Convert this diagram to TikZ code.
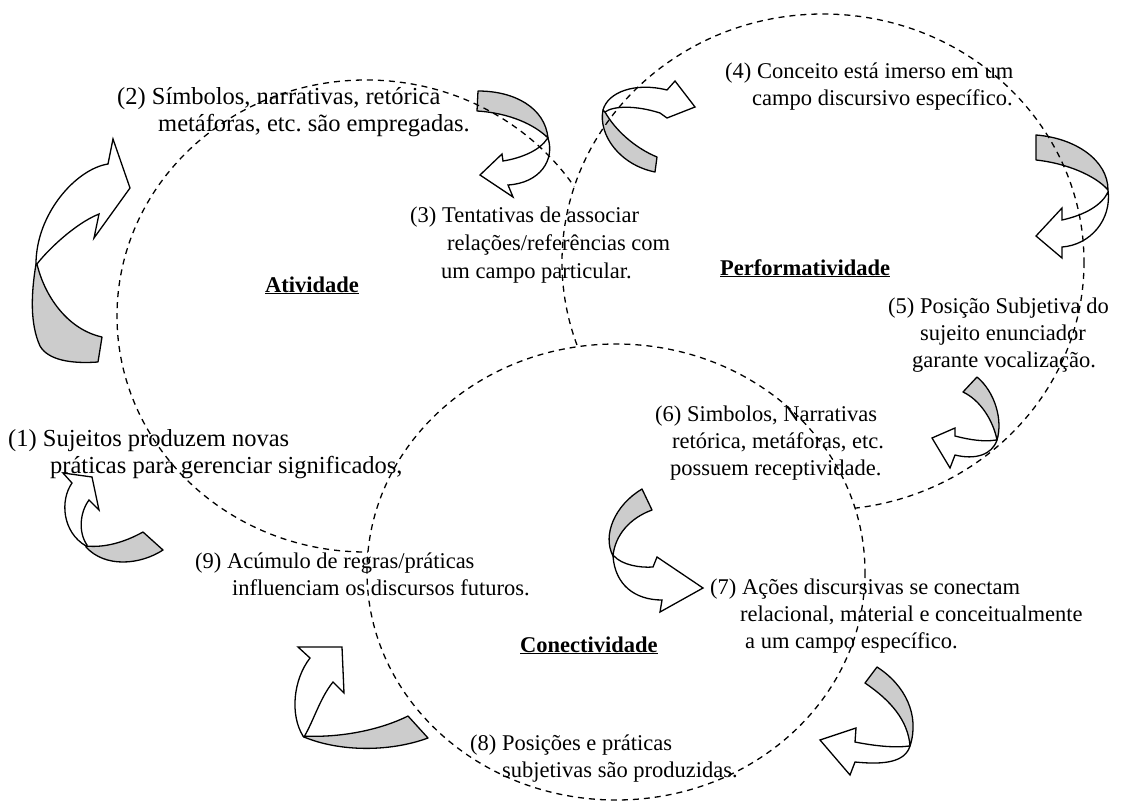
\documentclass[tikz,border=0pt]{standalone}
\usepackage{fontspec}
\setmainfont{Liberation Serif}
\begin{document}
\frenchspacing
\begin{tikzpicture}[x=1pt,y=-1pt]
\definecolor{bandgray}{HTML}{CCCCCC}
\tikzset{
  ring/.style={draw, dash pattern=on 6pt off 5pt, line width=1.3pt},
  backband/.style={draw, fill=bandgray, line width=1.3pt, line join=round},
  frontband/.style={draw, fill=white, line width=1.3pt, line join=miter},
  txt/.style={anchor=base west, inner sep=0pt, font=\fontsize{22.5}{27}\selectfont},
  bigtxt/.style={anchor=base west, inner sep=0pt, font=\fontsize{24.5}{27}\selectfont},
  heading/.style={txt, font=\fontsize{22.5}{27}\selectfont\bfseries},
}
\useasboundingbox (0,0) rectangle (1137,803);

% ---- curved ribbon arrows (back side grey, front side white) ----
% left, pointing right
\path[backband] (36,264) .. controls (31,294) and (30,324) .. (40,346) .. controls (48,360) and (71,364) .. (98,362) -- (102,337) .. controls (66,329) and (44,294) .. (37,264) -- cycle;
\path[frontband] (36,264) .. controls (36,214) and (76,169) .. (108,164) -- (113,139) -- (130,188) -- (94,238) -- (99,214) .. controls (74,224) and (46,252) .. (37,264) -- cycle;
% near (2)/(3)
\path[backband] (478,91) .. controls (515,91) and (545,108) .. (548,138) .. controls (535,125) and (510,113) .. (477,111) -- cycle;
\path[frontband] (548,138) .. controls (555,160) and (540,183) .. (508,185) -- (513,197) -- (480,175) -- (502,154) -- (503,161) .. controls (522,158) and (540,150) .. (547,139) -- cycle;
% near (4)
\path[backband] (603,110) .. controls (598,135) and (620,165) .. (655,172) -- (657,157) .. controls (635,148) and (615,130) .. (605,112) -- cycle;
\path[frontband] (603,110) .. controls (608,92) and (635,82) .. (667,90) -- (675,81) -- (695,107) -- (667,118) -- (660,113) .. controls (635,105) and (613,106) .. (605,112) -- cycle;
% right, between (4) and (5)
\path[backband] (1036,135) .. controls (1075,138) and (1108,160) .. (1108,190) .. controls (1095,175) and (1065,163) .. (1036,160) -- cycle;
\path[frontband] (1108,190) .. controls (1112,220) and (1090,245) .. (1062,247) -- (1062,258) -- (1036,236) -- (1062,208) -- (1062,220) .. controls (1085,215) and (1102,205) .. (1108,192) -- cycle;
% below (5)
\path[backband] (977,377) .. controls (995,392) and (1003,420) .. (997,440) .. controls (993,420) and (980,400) .. (963,392) -- cycle;
\path[frontband] (997,440) .. controls (992,455) and (975,460) .. (955,455) -- (950,468) -- (932,438) -- (955,428) -- (955,436) .. controls (970,440) and (985,442) .. (996,440) -- cycle;
% left of (6)/(7)
\path[backband] (642,489) .. controls (615,505) and (602,535) .. (613,556) .. controls (615,535) and (630,518) .. (652,510) -- cycle;
\path[frontband] (613,556) .. controls (615,585) and (635,600) .. (662,600) -- (660,612) -- (703,588) -- (657,557) -- (653,567) .. controls (640,568) and (622,565) .. (614,556) -- cycle;
% below (7)
\path[backband] (877,667) .. controls (905,685) and (920,715) .. (910,746) .. controls (908,720) and (890,700) .. (865,683) -- cycle;
\path[frontband] (910,746) .. controls (905,762) and (885,765) .. (855,762) -- (850,775) -- (820,740) -- (856,728) -- (855,742) .. controls (875,746) and (895,748) .. (909,746) -- cycle;
% left of (8)
\path[backband] (303,736) .. controls (340,738) and (380,730) .. (408,716) -- (428,738) .. controls (390,752) and (340,752) .. (304,737) -- cycle;
\path[frontband] (303,736) .. controls (290,715) and (293,680) .. (310,658) -- (298,647) -- (342,647) -- (344,693) -- (333,682) .. controls (320,698) and (314,720) .. (304,737) -- cycle;
% below (1)
\path[backband] (86,546) .. controls (105,548) and (125,542) .. (143,532) -- (163,550) .. controls (140,565) and (105,568) .. (86,547) -- cycle;
\path[frontband] (86,546) .. controls (62,532) and (60,500) .. (72,483) -- (63,473) -- (92,477) -- (99,510) -- (89,500) .. controls (80,512) and (78,532) .. (87,545) -- cycle;

% ---- the three dashed fields; a field drawn later hides the outlines inside it ----
% Atividade: hidden inside Performatividade and Conectividade
\begin{scope}[even odd rule]
  \clip (0,0) rectangle (1137,803) (823,262) ellipse [x radius=261, y radius=248];
  \clip (0,0) rectangle (1137,803) (616,572) ellipse [x radius=249, y radius=228];
  \draw[ring] (366,316) ellipse [x radius=249, y radius=236];
\end{scope}
% Performatividade: hidden inside Conectividade
\begin{scope}[even odd rule]
  \clip (0,0) rectangle (1137,803) (616,572) ellipse [x radius=249, y radius=228];
  \draw[ring] (823,262) ellipse [x radius=261, y radius=248];
\end{scope}
% Conectividade: complete
\draw[ring] (616,572) ellipse [x radius=249, y radius=228];

% ---- field names ----
\node[heading] (atv) at (265,292) {\underline{Atividade}};
\node[heading] (perf) at (720,275) {\underline{Performatividade}};
\node[heading] (conn) at (520,652) {\underline{Conectividade}};

% ---- numbered statements ----
\node[bigtxt] (s1a) at (8,446) {(1) Sujeitos produzem novas};
\node[bigtxt] (s1b) at (50,473) {práticas para gerenciar significados,};
\node[bigtxt] (s2a) at (117,104) {(2) Símbolos, narrativas, retórica};
\node[bigtxt] (s2b) at (158,131) {metáforas, etc. são empregadas.};
\node[txt] (s3a) at (410,222) {(3) Tentativas de associar};
\node[txt] (s3b) at (447,250) {relações/referências com};
\node[txt] (s3c) at (441,278) {um campo particular.};
\node[txt] (s4a) at (725,78) {(4) Conceito está imerso em um};
\node[txt] (s4b) at (752,105) {campo discursivo específico.};
\node[txt] (s5a) at (888,313) {(5) Posição Subjetiva do};
\node[txt] (s5b) at (920,340) {sujeito enunciador};
\node[txt] (s5c) at (912,367) {garante vocalização.};
\node[txt] (s6a) at (655,421) {(6) Simbolos, Narrativas};
\node[txt] (s6b) at (672,448) {retórica, metáforas, etc.};
\node[txt] (s6c) at (670,475) {possuem receptividade.};
\node[txt] (s7a) at (710,594) {(7) Ações discursivas se conectam};
\node[txt] (s7b) at (740,621) {relacional, material e conceitualmente};
\node[txt] (s7c) at (745,648) {a um campo específico.};
\node[txt] (s8a) at (470,750) {(8) Posições e práticas};
\node[txt] (s8b) at (502,777) {subjetivas são produzidas.};
\node[txt] (s9a) at (195,568) {(9) Acúmulo de regras/práticas};
\node[txt] (s9b) at (232,595) {influenciam os discursos futuros.};
\end{tikzpicture}
\end{document}
